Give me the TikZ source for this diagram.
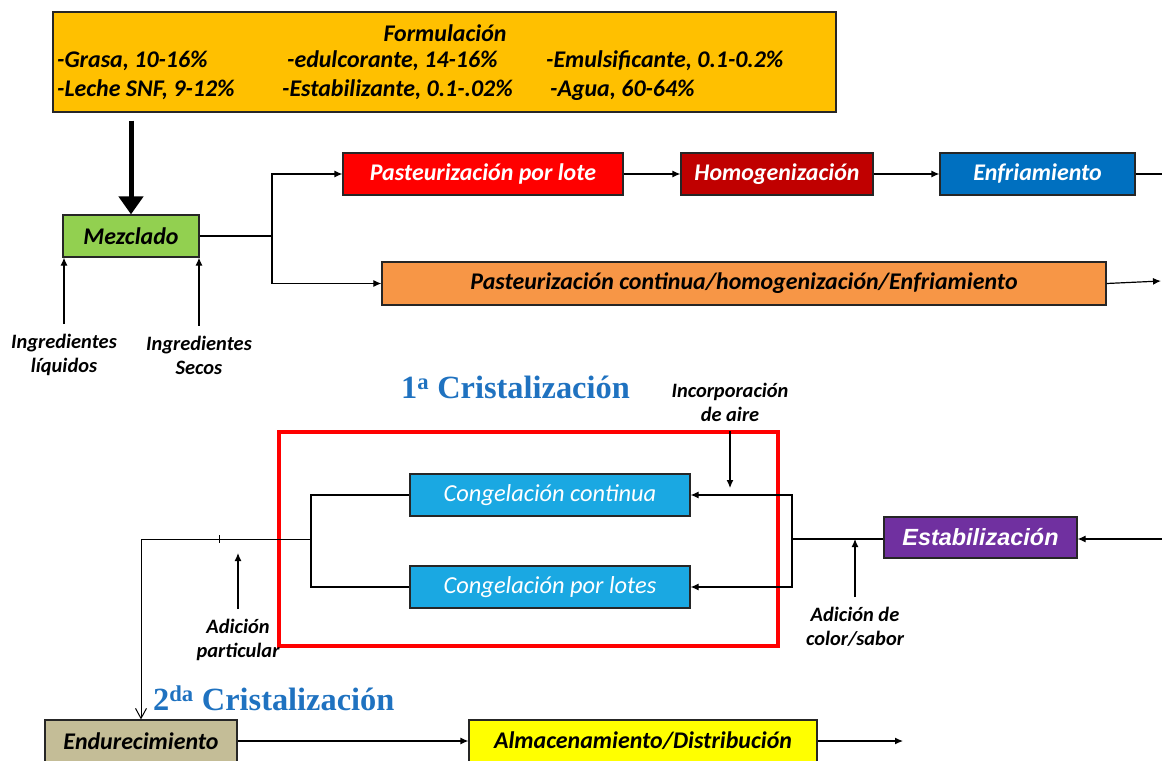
\documentclass[tikz,border=0pt]{standalone}
\usepackage{fontspec}
\setmainfont{Carlito}
\newfontfamily\arialfont{Liberation Sans}
\newfontfamily\titlefont{Liberation Serif}
\usetikzlibrary{arrows.meta}

\definecolor{formulcol}{HTML}{FFC000}
\definecolor{mezclacol}{HTML}{92D050}
\definecolor{lotecol}{HTML}{FF0000}
\definecolor{homogcol}{HTML}{C00000}
\definecolor{enfriacol}{HTML}{0070C0}
\definecolor{contcol}{HTML}{F79646}
\definecolor{congcol}{HTML}{1AA8E2}
\definecolor{estabcol}{HTML}{7030A0}
\definecolor{endurcol}{HTML}{C4BD97}
\definecolor{almaccol}{HTML}{FFFF00}
\definecolor{cristcol}{HTML}{1F72C0}

\tikzset{
  box/.style={draw=black!85, line width=1.2bp, minimum height=42bp, inner sep=0pt,
    font=\fontsize{24}{28}\selectfont\bfseries\itshape},
  whitebox/.style={box, text=white},
  formtext/.style={anchor=base west, inner sep=0pt, font=\fontsize{24}{28}\selectfont\bfseries\itshape},
  lbl/.style={align=center, inner sep=0pt, font=\fontsize{20.5}{24}\selectfont\bfseries\itshape},
  crist/.style={anchor=base west, inner sep=0pt, text=cristcol, font=\fontsize{32.5}{38}\selectfont\titlefont\bfseries},
  arr/.style={-{Latex[length=8bp,width=7bp]}, line width=1.2bp},
  line/.style={line width=1.2bp},
}

\begin{document}
\begin{tikzpicture}[x=1bp, y=-1bp]
  \useasboundingbox (0,0) rectangle (1162,761);

  % formulacion
  \node[box, fill=formulcol, minimum width=783bp, minimum height=100bp] (formul) at (444.5,62) {};
  \node[formtext, anchor=base] (ftitle) at (445,42) {Formulación};
  \node[formtext] (grasa) at (57,68) {-Grasa, 10-16\%};
  \node[formtext] (edulc) at (287,68) {-edulcorante, 14-16\%};
  \node[formtext] (emuls) at (546,68) {-Emulsificante, 0.1-0.2\%};
  \node[formtext] (leche) at (57,97) {-Leche SNF, 9-12\%};
  \node[formtext] (estabil) at (282,97) {-Estabilizante, 0.1-.02\%};
  \node[formtext] (agua) at (550,97) {-Agua, 60-64\%};

  % mezclado y pasteurizacion
  \node[box, fill=mezclacol, minimum width=136bp] (mezcla) at (131,236) {Mezclado};
  \node[lbl] (liq) at (64,355) {Ingredientes\\líquidos};
  \node[lbl] (secos) at (199,355) {Ingredientes\\Secos};
  \node[whitebox, fill=lotecol, minimum width=280bp] (pastlote) at (483,174) {Pasteurización por lote};
  \node[whitebox, fill=homogcol, minimum width=192bp] (homog) at (777,174) {Homogenización};
  \node[whitebox, fill=enfriacol, minimum width=195bp] (enfria) at (1037.5,174) {Enfriamiento};
  \node[box, fill=contcol, minimum width=724bp, minimum height=43bp] (pastcont) at (744,283.5) {Pasteurización continua/homogenización/Enfriamiento};

  \draw[line width=5bp, -{Triangle[length=18bp,width=24bp]}, shorten <=8bp] (mezcla.north |- formul.south) -- (mezcla.north);
  \draw[arr, shorten <=10bp] (liq.north) -- (liq.north |- mezcla.south);
  \draw[arr, shorten <=10bp] (secos.north) -- (secos.north |- mezcla.south);
  \coordinate (split) at (272,236);
  \draw[line] (mezcla.east) -- (split);
  \draw[arr] (split) |- (pastlote.west);
  \draw[arr] (split) |- (pastcont.west);
  \draw[arr] (pastlote) -- (homog);
  \draw[arr] (homog) -- (enfria);
  \coordinate (outA) at (1162,174);
  \coordinate (outB) at (1161,281);
  \draw[line] (enfria.east) -- (outA);
  \draw[arr] (pastcont.east) -- (outB);

  % 1a cristalizacion
  \node[crist] (crist1) at (401,398) {1\textsuperscript{a} Cristalización};
  \draw[lotecol, line width=3.5bp] (279,432) rectangle (778,646);
  \node[whitebox, font=\fontsize{24.5}{28}\selectfont\itshape, fill=congcol, minimum width=280bp] (congcont) at (550,495) {Congelación continua};
  \node[whitebox, font=\fontsize{24.5}{28}\selectfont\itshape, fill=congcol, minimum width=280bp] (conglote) at (550,587) {Congelación por lotes};
  \node[lbl] (aire) at (730,402) {Incorporación\\de aire};
  \coordinate (aireend) at (730,488);
  \draw[arr, shorten <=10bp] (aire.south) -- (aireend);

  \node[box, fill=estabcol, text=white, minimum width=193bp, minimum height=41bp,
    font=\fontsize{23.5}{27}\selectfont\arialfont\bfseries\itshape] (estab) at (980.5,537.5) {Estabilización};
  \coordinate (inC) at (1162,539);
  \draw[arr] (inC) -- (estab.east |- inC);
  \coordinate (joinR) at (792,539);
  \draw[line] (estab.west |- joinR) -- (joinR);
  \draw[arr] (joinR) |- (congcont.east);
  \draw[arr] (joinR) |- (conglote.east);
  \node[lbl] (sabor) at (855,627) {Adición de\\color/sabor};
  \draw[arr, shorten <=10bp] (sabor.north) -- (sabor.north |- joinR);

  \coordinate (joinL) at (311,539);
  \draw[line] (congcont.west) -| (joinL) |- (conglote.west);
  \node[lbl] (partic) at (238,640) {Adición\\particular};
  \draw[arr, shorten <=10bp, shorten >=14bp] (partic.north) -- (partic.north |- joinL);
  \draw[line width=0.8bp] (219,535) -- (219,543);

  % 2da cristalizacion
  \node[crist] (crist2) at (153,710) {2\textsuperscript{da} Cristalización};
  \node[box, fill=endurcol, minimum width=192bp] (endur) at (141,741) {Endurecimiento};
  \node[box, fill=almaccol, minimum width=348bp] (almac) at (643,741) {Almacenamiento/Distribución};
  \draw[line width=1bp, -{Straight Barb[length=10bp,width=11bp]}] (joinL) -| (endur.north);
  \draw[arr] (endur) -- (almac);
  \coordinate (outD) at (903,741);
  \draw[arr] (almac.east) -- (outD);
\end{tikzpicture}
\end{document}
